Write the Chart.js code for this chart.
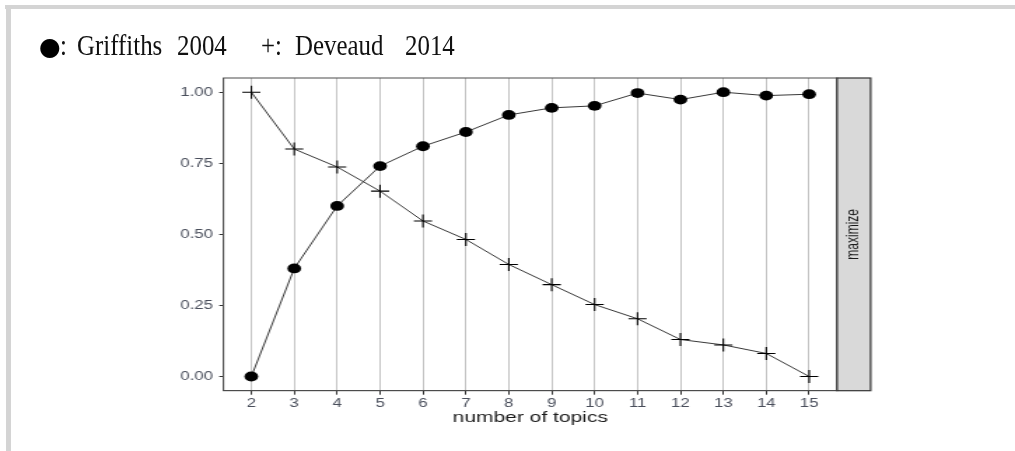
<!DOCTYPE html>
<html>
<head>
<meta charset="utf-8">
<script src="https://cdn.jsdelivr.net/npm/chart.js@4/dist/chart.umd.min.js"></script>
<style>
  html, body { margin: 0; padding: 0; background: #fff; width: 1015px; height: 451px; overflow: hidden; }
  #wrap { position: absolute; left: 0; top: 0; width: 725px; height: 451px; transform: scaleX(1.4); transform-origin: 0 0; }
  .frameTop { position: absolute; left: 5px; top: 5px; width: 1010px; height: 4px; background: #d4d4d4; }
  .frameLeft { position: absolute; left: 6px; top: 5px; width: 5px; height: 446px; background: #d4d4d4; }
  .lg { position: absolute; top: 28px; font-family: "Liberation Serif", "DejaVu Serif", serif; font-size: 30px; color: #111; white-space: pre; transform: scaleX(0.83); transform-origin: 0 0; line-height: 34px; }
  .dot { position: absolute; left: 39px; top: 30px; font-family: "DejaVu Sans", sans-serif; font-size: 25px; line-height: 34px; color: #000; }
</style>
</head>
<body>
<div id="wrap"><canvas id="c"></canvas></div>
<div class="frameTop"></div>
<div class="frameLeft"></div>
<div class="dot">●</div>
<div class="lg" style="left:60px">:</div>
<div class="lg" style="left:77px">Griffiths</div>
<div class="lg" style="left:177px">2004</div>
<div class="lg" style="left:261px">+:</div>
<div class="lg" style="left:295px">Deveaud</div>
<div class="lg" style="left:405px">2014</div>
<script>
const topics = [2, 3, 4, 5, 6, 7, 8, 9, 10, 11, 12, 13, 14, 15];
const griffiths2004 = [0.0, 0.38, 0.60, 0.74, 0.81, 0.86, 0.92, 0.945, 0.952, 0.997, 0.974, 1.0, 0.988, 0.993];
const deveaud2014 = [1.0, 0.80, 0.737, 0.652, 0.547, 0.482, 0.394, 0.323, 0.253, 0.203, 0.130, 0.111, 0.081, 0.0];
const xTickValues = [2, 3, 4, 5, 6, 7, 8, 9, 10, 11, 12, 13, 14, 15];
const yTickValues = [0, 0.25, 0.5, 0.75, 1.0];
const yTickLabels = ['0.00', '0.25', '0.50', '0.75', '1.00'];
const xAxisTitle = 'number of topics';
const stripLabel = 'maximize';

Chart.defaults.font.family = '"Liberation Sans", Arial, sans-serif';

const toPoints = (ys) => topics.map((t, i) => ({ x: t, y: ys[i] }));

const frame = {
  id: 'frame',
  afterDraw(chart) {
    const { ctx, chartArea: a } = chart;
    ctx.save();
    ctx.strokeStyle = '#4d4d4d';
    ctx.lineWidth = 1;
    ctx.strokeRect(a.left, a.top, a.right - a.left, a.bottom - a.top);
    const sw = 24;
    ctx.fillStyle = '#d9d9d9';
    ctx.fillRect(a.right, a.top, sw, a.bottom - a.top);
    ctx.strokeStyle = '#333';
    ctx.lineWidth = 1.2;
    ctx.strokeRect(a.right, a.top, sw, a.bottom - a.top);
    ctx.translate(a.right + sw / 2, (a.top + a.bottom) / 2);
    ctx.rotate(-Math.PI / 2);
    ctx.fillStyle = '#1a1a1a';
    ctx.font = '12px "Liberation Sans", Arial, sans-serif';
    ctx.textAlign = 'center';
    ctx.textBaseline = 'middle';
    ctx.fillText(stripLabel, 0, 0);
    ctx.restore();
  }
};

new Chart(document.getElementById('c'), {
  type: 'line',
  data: {
    datasets: [
      {
        label: 'Griffiths 2004',
        data: toPoints(griffiths2004),
        borderColor: '#222',
        borderWidth: 0.9,
        pointStyle: 'circle',
        pointRadius: 4.9,
        pointBackgroundColor: '#000',
        pointBorderColor: '#000',
        pointBorderWidth: 0,
        tension: 0
      },
      {
        label: 'Deveaud 2014',
        data: toPoints(deveaud2014),
        borderColor: '#222',
        borderWidth: 0.9,
        pointStyle: 'cross',
        pointRadius: 6.5,
        pointBorderColor: '#000',
        pointBorderWidth: 1.1,
        tension: 0
      }
    ]
  },
  options: {
    responsive: true,
    maintainAspectRatio: false,
    animation: false,
    events: [],
    layout: { padding: { left: 0, right: 127.1, top: 78, bottom: 15.3 } },
    plugins: { legend: { display: false }, tooltip: { enabled: false } },
    scales: {
      x: {
        type: 'linear',
        min: 1.35,
        max: 15.65,
        afterBuildTicks: (s) => { s.ticks = xTickValues.map(v => ({ value: v })); },
        afterFit: (s) => { s.height = 45; },
        ticks: {
          color: '#4a4f5c',
          font: { size: 12 },
          padding: 2,
          maxRotation: 0,
          autoSkip: false,
          callback: (v) => String(v)
        },
        grid: { color: '#c4c4c4', lineWidth: 1, tickLength: 4, tickColor: '#333', drawOnChartArea: true },
        border: { display: true, color: '#4d4d4d', width: 1 },
        title: {
          display: true,
          text: xAxisTitle,
          color: '#1a1a1a',
          font: { size: 15 },
          padding: { top: 0, bottom: 8.5 }
        }
      },
      y: {
        type: 'linear',
        min: -0.05,
        max: 1.05,
        afterBuildTicks: (s) => { s.ticks = yTickValues.map(v => ({ value: v })); },
        afterFit: (s) => { s.width = 159.6; },
        ticks: {
          color: '#4a4f5c',
          font: { size: 12 },
          padding: 4.5,
          callback: (v) => { const i = yTickValues.indexOf(v); return i >= 0 ? yTickLabels[i] : ''; }
        },
        grid: { drawOnChartArea: false, tickLength: 3, tickColor: '#333' },
        border: { display: true, color: '#4d4d4d', width: 1 }
      }
    }
  },
  plugins: [frame]
});
</script>
</body>
</html>
